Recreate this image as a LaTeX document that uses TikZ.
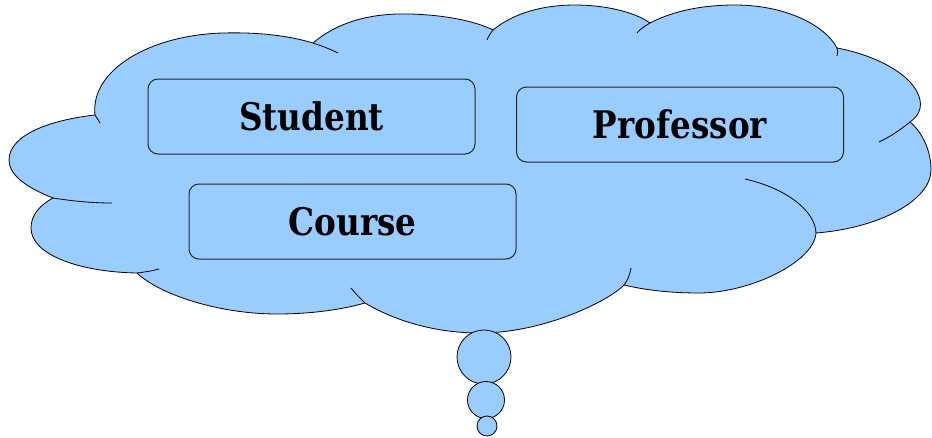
\documentclass[tikz,border=0pt]{standalone}
\usepackage[dvipsnames]{xcolor}
\usepackage{fontspec}
\usepackage{tikz}
\newfontfamily\entityfont{DejaVu Serif}[FakeStretch=0.86]
\definecolor{cloudblue}{RGB}{153,204,255}

\begin{document}
\begin{tikzpicture}[x=1pt,y=-1pt,
        bubble/.style={fill=cloudblue,draw=black,line width=.8pt},
        hook/.style={draw=black,line width=.8pt},
        entity/.style={draw=black!85,line width=1pt,rounded corners=10pt,minimum width=327pt,minimum height=75pt,inner sep=0pt,font=\entityfont\bfseries\fontsize{38}{40}\selectfont}]
        \useasboundingbox (0,0) rectangle (932,437);
        \filldraw[bubble](95, 115) .. controls (90, 70) and (150, 35) .. (223, 33) .. controls (260, 32) and (290, 36) .. (313, 43) .. controls (340, 20) and (375, 13) .. (410, 14) .. controls (445, 15) and (475, 21) .. (493, 30) .. controls (515, 12) and (545, 5) .. (575, 5) .. controls (605, 5) and (635, 12) .. (650, 23) .. controls (675, 10) and (705, 5) .. (735, 5) .. controls (785, 5) and (825, 25) .. (837, 48) .. controls (875, 55) and (915, 75) .. (920, 100) .. controls (922, 110) and (917, 117) .. (910, 122) .. controls (922, 132) and (931, 150) .. (931, 170) .. controls (931, 200) and (880, 228) .. (816, 233) .. controls (814, 262) and (750, 293) .. (699, 293) .. controls (670, 293) and (645, 290) .. (624, 285) .. controls (610, 300) and (545, 333) .. (480, 333) .. controls (430, 333) and (390, 318) .. (365, 303) .. controls (340, 310) and (310, 314) .. (277, 314) .. controls (220, 314) and (160, 295) .. (137, 273) .. controls (80, 272) and (31, 255) .. (31, 228) .. controls (31, 215) and (40, 205) .. (53, 198) .. controls (20, 185) and (9, 172) .. (9, 160) .. controls (9, 135) and (50, 120) .. (95, 115) -- cycle;
        % lobe ends running on inside the bubble
        \draw[hook](313, 43) .. controls (322, 46) and (330, 49) .. (338, 53);
        \draw[hook](493, 30) .. controls (490, 34) and (488, 37) .. (487, 40);
        \draw[hook](650, 23) .. controls (645, 26) and (640, 29) .. (637, 33);
        \draw[hook](837, 48) .. controls (838, 50) and (838, 53) .. (837, 56);
        \draw[hook](910, 122) .. controls (900, 130) and (890, 137) .. (879, 142);
        \draw[hook](816, 233) .. controls (815, 210) and (785, 188) .. (745, 179);
        \draw[hook](624, 285) .. controls (628, 280) and (630, 274) .. (631, 268);
        \draw[hook](365, 303) .. controls (360, 298) and (355, 293) .. (351, 288);
        \draw[hook](137, 273) .. controls (145, 272) and (152, 271) .. (159, 269);
        \draw[hook](53, 198) .. controls (72, 201) and (92, 203) .. (112, 203);
        \draw[hook](95, 115) .. controls (97, 118) and (99, 121) .. (100, 123);

        \filldraw[bubble] (484, 357) circle (27);
        \filldraw[bubble] (486, 400) circle (18.5);
        \filldraw[bubble] (487, 426) circle (10);

        \node[entity] (student) at (311.5, 116.5) {Student};
        \node[entity] (professor) at (680, 124.5) {Professor};
        \node[entity] (course) at (352.5, 221.5) {Course};
    \end{tikzpicture}
\end{document}
